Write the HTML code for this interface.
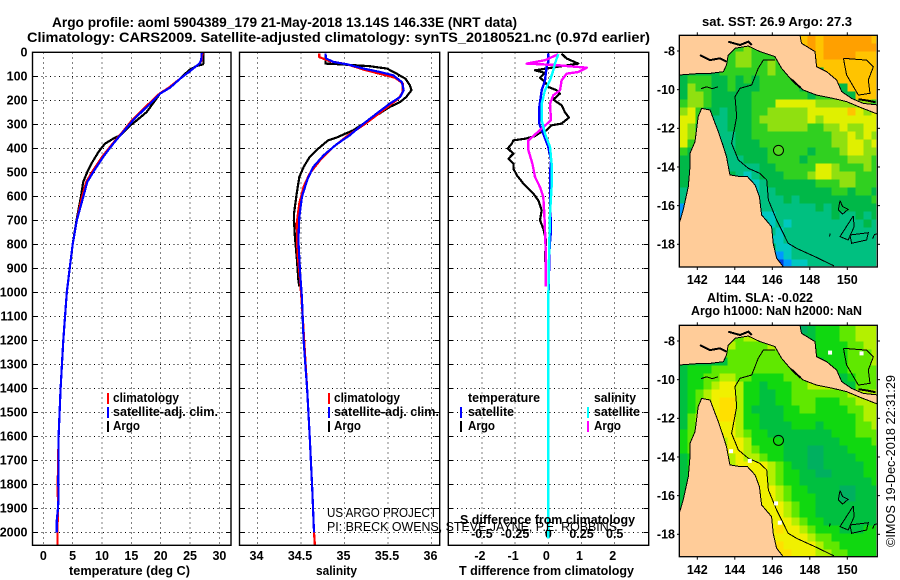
<!DOCTYPE html>
<html lang="en">
<head>
<meta charset="utf-8">
<title>Argo profile 5904389_179</title>
<style>
html,body{margin:0;padding:0;background:#fff;}
svg{display:block;}
text{font-family:"Liberation Sans",sans-serif;fill:#000;}
.b{font-weight:bold;}
.t{font-weight:bold;font-size:13.5px;}
.k{font-weight:bold;font-size:12.5px;}
.l{font-weight:bold;font-size:12.5px;}
.frame{fill:none;stroke:#000;stroke-width:1.4;}
</style>
</head>
<body>
<svg id="chart" xmlns="http://www.w3.org/2000/svg" width="900" height="580" viewBox="0 0 900 580">
  <defs>
    <clipPath id="clip-sst"><rect x="679.3" y="35.3" width="197" height="231"/></clipPath>
    <clipPath id="clip-sla"><rect x="679.3" y="325.3" width="197" height="231"/></clipPath>
    <clipPath id="clip-land-sst"><rect x="679.3" y="35.3" width="198" height="231.7"/></clipPath>
    <clipPath id="clip-land-sla"><rect x="679.3" y="325.3" width="198" height="231.4"/></clipPath>
  </defs>

  <text class="t" x="52" y="27" textLength="465" lengthAdjust="spacingAndGlyphs">Argo profile: aoml 5904389_179 21-May-2018 13.14S 146.33E (NRT data)</text>
  <text class="t" x="27" y="42" textLength="623" lengthAdjust="spacingAndGlyphs">Climatology: CARS2009. Satellite-adjusted climatology: synTS_20180521.nc (0.97d earlier)</text>

  <g id="plots"></g>
  <g id="maps"></g>

  <rect class="frame" x="32.5" y="52.3" width="198.5" height="493"/>
  <rect class="frame" x="239.5" y="52.3" width="200.2" height="493"/>
  <rect class="frame" x="448.3" y="52.3" width="200.4" height="493"/>

  <text class="k" x="69" y="575" textLength="121" lengthAdjust="spacingAndGlyphs">temperature (deg C)</text>
  <text class="k" x="316" y="575" textLength="41" lengthAdjust="spacingAndGlyphs">salinity</text>
  <text class="k" x="459" y="575" textLength="175" lengthAdjust="spacingAndGlyphs">T difference from climatology</text>
  <text class="k" x="460" y="524" textLength="175" lengthAdjust="spacingAndGlyphs">S difference from climatology</text>

  <text style="font-size:12.5px" x="327" y="517" textLength="110" lengthAdjust="spacingAndGlyphs">US ARGO PROJECT</text>
  <text style="font-size:12.5px" x="327" y="531" textLength="290" lengthAdjust="spacingAndGlyphs">PI: BRECK OWENS, STEVE JAYNE, P.E. ROBBINS</text>

  <g>
    <rect x="107" y="393" width="2" height="11" fill="#f00"/>
    <text class="l" x="113" y="402" textLength="66" lengthAdjust="spacingAndGlyphs">climatology</text>
    <rect x="107" y="407" width="2" height="11" fill="#00f"/>
    <text class="l" x="113" y="416" textLength="105" lengthAdjust="spacingAndGlyphs">satellite-adj. clim.</text>
    <rect x="107" y="421" width="2" height="11" fill="#000"/>
    <text class="l" x="113" y="430" textLength="27" lengthAdjust="spacingAndGlyphs">Argo</text>
  </g>
  <g>
    <rect x="328" y="393" width="2" height="11" fill="#f00"/>
    <text class="l" x="334" y="402" textLength="66" lengthAdjust="spacingAndGlyphs">climatology</text>
    <rect x="328" y="407" width="2" height="11" fill="#00f"/>
    <text class="l" x="334" y="416" textLength="105" lengthAdjust="spacingAndGlyphs">satellite-adj. clim.</text>
    <rect x="328" y="421" width="2" height="11" fill="#000"/>
    <text class="l" x="334" y="430" textLength="27" lengthAdjust="spacingAndGlyphs">Argo</text>
  </g>
  <g>
    <text class="l" x="468" y="402" textLength="72" lengthAdjust="spacingAndGlyphs">temperature</text>
    <rect x="460" y="407" width="2" height="11" fill="#00f"/>
    <text class="l" x="468" y="416" textLength="46" lengthAdjust="spacingAndGlyphs">satellite</text>
    <rect x="460" y="421" width="2" height="11" fill="#000"/>
    <text class="l" x="468" y="430" textLength="27" lengthAdjust="spacingAndGlyphs">Argo</text>
    <text class="l" x="594" y="402" textLength="42" lengthAdjust="spacingAndGlyphs">salinity</text>
    <rect x="587" y="407" width="2" height="11" fill="#0ff"/>
    <text class="l" x="594" y="416" textLength="46" lengthAdjust="spacingAndGlyphs">satellite</text>
    <rect x="587" y="421" width="2" height="11" fill="#f0f"/>
    <text class="l" x="594" y="430" textLength="27" lengthAdjust="spacingAndGlyphs">Argo</text>
  </g>

  <text class="k" x="702" y="26" textLength="150" lengthAdjust="spacingAndGlyphs">sat. SST: 26.9 Argo: 27.3</text>
  <text class="k" x="707" y="302" textLength="106" lengthAdjust="spacingAndGlyphs">Altim. SLA: -0.022</text>
  <text class="k" x="691" y="315" textLength="171" lengthAdjust="spacingAndGlyphs">Argo h1000: NaN h2000: NaN</text>
  <text style="font-size:13px" transform="translate(895 547) rotate(-90)" textLength="172" lengthAdjust="spacingAndGlyphs">©IMOS 19-Dec-2018 22:31:29</text>
</svg>

<script>
/* ---- profile data (depth in m, value in native units) ---- */
const depthTicks = [0,100,200,300,400,500,600,700,800,900,1000,1100,1200,1300,1400,1500,1600,1700,1800,1900,2000];
const tempTicks = [0,5,10,15,20,25,30];
const salTicks = [34,34.5,35,35.5,36];
const tDiffTicks = [-2,-1,0,1,2];
const sDiffTicks = [-0.5,-0.25,0,0.25,0.5];

const tempArgoDepth = [0,45,50,57,75,110,151,172,249,290,304,346,360,381,415,464,499,540,603,700,800,900,980];
const tempArgoValue = [27.3,27.3,27.2,26.1,24.8,23.3,21.3,19.9,17.6,15.6,14.8,13.1,11.9,10.5,9.4,8.2,7.5,6.8,6.4,5.65,5,4.5,4.1];
const tempClimDepth = [0,33,47,78,110,147,172,228,283,332,381,436,499,540,603,700,800,900,1000,1200,1400,1600,1800,1900,2000,2054];
const tempClimValue = [27.1,27,26.6,25,23.3,21.4,19.8,17.4,15.1,13.5,11.8,10,8.3,7.3,6.6,5.7,5,4.5,4,3.4,2.95,2.6,2.45,2.5,2.4,2.4];
const tempSatDepth = [0,33,47,78,110,147,172,228,283,332,381,436,499,540,603,700,800,900,1000,1200,1400,1600,1800,1850,1900,1950,2000];
const tempSatValue = [27,26.9,26.6,25,23.3,21.6,19.9,17.6,15.3,13.6,11.9,10.2,8.5,7.5,6.8,5.7,5,4.5,4,3.4,2.95,2.6,2.55,2.6,2.5,2.3,2.3];

const salArgoDepth = [5,47,50,58,68,89,110,137,158,186,207,228,262,297,325,339,355,367,401,436,478,520,589,672,700,769,853,950,975];
const salArgoValue = [34.78,34.78,34.95,35.29,35.49,35.6,35.7,35.75,35.77,35.71,35.64,35.52,35.37,35.22,35.1,35.01,34.91,34.81,34.7,34.6,34.53,34.48,34.45,34.42,34.42,34.43,34.45,34.47,34.48];
const salClimDepth = [5,20,37,50,72,90,106,130,165,193,221,262,303,346,395,450,505,560,630,713,838,950,1100,1400,1600,1825,2000,2054];
const salClimValue = [34.71,34.71,34.83,35.03,35.22,35.41,35.58,35.67,35.67,35.62,35.52,35.37,35.22,35.04,34.87,34.72,34.6,34.53,34.48,34.45,34.46,34.49,34.52,34.57,34.6,34.63,34.65,34.66];
const salSatDepth = [5,26,40,50,68,82,96,124,158,186,214,255,297,346,383,429,478,533,603,686,783,921,1020,1200,1400,1600,1825,2000];
const salSatValue = [34.78,34.79,34.87,35.03,35.22,35.41,35.56,35.66,35.68,35.64,35.52,35.37,35.22,35.06,34.91,34.76,34.64,34.57,34.51,34.48,34.47,34.49,34.51,34.53,34.57,34.6,34.63,34.65];

const tDiffArgoDepth = [6,26,47,75,86,106,124,144,158,172,197,221,249,272,297,304,325,335,349,360,367,381,401,422,443,464,485,512,547,589,617,658,700,735,783,853,874];
const tDiffArgoValue = [0.4,0.55,0.9,-0.4,-0.1,-0.25,-0.1,0,0.25,0.35,0.15,0.4,0.5,0.62,0.4,0.1,-0.05,-0.25,-0.4,-0.7,-1.05,-1.1,-1.22,-1.05,-1.2,-1.05,-1.05,-0.95,-0.75,-0.45,-0.3,-0.2,-0.25,-0.15,-0.07,-0.1,-0.1];
const tDiffSatDepth = [6,40,61,117,158,228,297,339,394,450,505,617,742,811,922,1033,2025];
const tDiffSatValue = [0,0,-0.05,-0.1,-0.2,-0.27,-0.27,-0.15,0,0.08,0.05,0.05,0.08,0.04,0.02,0,0];
const sDiffArgoDepth = [8,33,47,53,64,82,89,117,158,179,214,283,318,367,408,464,519,561,603,672,742,853,975];
const sDiffArgoValue = [0.075,-0.025,-0.163,0.05,0.289,0.226,0.138,0.1,0.088,0.038,0.013,0.02,-0.05,-0.15,-0.15,-0.12,-0.1,-0.063,-0.038,-0.03,-0.025,-0.018,-0.018];
const sDiffSatDepth = [8,47,75,117,158,214,283,339,394,464,561,672,853,1033,2025];
const sDiffSatValue = [0.075,0.05,0.038,0.013,-0.025,-0.05,-0.05,-0.025,0.013,0.025,0.025,0.013,0.005,0,0];

/* ---- map data: colour level per grid cell, land cells are covered ---- */
const lonTicks = [142,144,146,148,150];
const latTicks = [-8,-10,-12,-14,-16,-18];
const argoLon = 146.33;
const argoLat = -13.14;

const sstLevels = [
[4,4,4,4,4,4,4,4,4,4,4,4,4,4,4,8,9,8,9,9,9,9,9,9,8],
[4,4,4,4,4,4,5,5,6,5,5,5,4,4,4,8,9,8,9,9,9,9,9,9,9],
[4,4,4,4,4,4,5,6,6,5,5,5,6,4,4,4,8,8,9,9,9,9,8,8,8],
[4,4,4,4,4,5,5,6,6,5,5,6,5,6,4,4,4,8,8,8,8,8,8,8,8],
[4,4,4,4,4,5,5,5,5,5,5,6,5,5,4,4,4,4,8,8,8,8,8,8,8],
[4,5,5,5,4,4,5,4,5,4,5,5,5,5,5,4,4,4,4,8,8,8,8,8,8],
[4,6,5,5,4,4,5,4,4,4,5,5,5,5,5,4,4,4,4,4,4,8,8,8,8],
[4,6,6,5,4,4,4,4,4,5,5,5,5,5,5,5,4,5,5,5,4,4,8,8,8],
[5,6,6,5,4,4,4,4,4,5,5,5,7,7,7,7,7,6,6,6,6,6,6,6,5],
[6,7,5,4,4,3,4,4,4,5,5,6,6,6,6,6,7,7,7,7,7,8,7,6,7],
[7,7,5,4,3,3,4,4,4,5,6,6,6,6,6,6,7,6,7,7,7,7,7,7,7],
[7,6,4,4,3,3,4,4,4,5,5,6,6,6,6,6,5,5,6,6,7,6,6,7,7],
[7,6,4,4,3,3,3,4,4,5,5,5,5,5,5,5,5,5,5,6,6,7,6,7,6],
[7,5,4,4,3,3,3,4,4,4,5,5,5,5,5,5,5,5,5,6,6,7,7,6,7],
[5,4,4,4,4,3,3,4,4,4,4,5,5,5,5,5,4,5,5,5,6,7,7,6,6],
[4,4,4,4,4,4,3,3,4,4,4,5,5,5,5,4,5,5,5,5,5,6,6,6,5],
[4,4,4,4,4,4,3,3,3,3,4,4,5,5,5,5,5,7,7,6,5,5,5,6,5],
[4,4,4,4,4,4,4,3,2,3,4,4,4,5,5,5,6,7,7,6,6,6,5,5,5],
[4,4,4,4,4,4,4,4,4,2,3,4,4,4,4,4,4,5,5,5,6,6,5,5,5],
[3,4,4,4,4,4,4,4,4,2,3,3,4,4,4,4,4,4,4,5,5,4,5,5,4],
[3,4,4,4,4,4,4,4,4,3,3,3,3,4,3,4,4,4,4,4,4,4,4,4,5],
[1,4,4,4,4,4,4,4,4,4,3,3,3,3,3,3,3,4,3,4,4,4,4,4,4],
[1,4,4,4,4,4,4,4,4,4,2,2,3,3,3,3,3,3,3,4,3,3,4,3,4],
[0,4,4,4,4,4,4,4,4,4,4,2,3,2,3,3,3,3,3,3,3,3,3,4,3],
[4,4,4,4,4,4,4,4,4,4,4,3,2,3,3,3,3,3,3,3,3,3,3,3,3],
[4,4,4,4,4,4,4,4,4,4,4,2,2,3,3,3,3,3,3,3,3,3,3,3,3],
[4,4,4,4,4,4,4,4,4,4,4,4,2,2,3,3,3,3,3,3,3,3,3,3,3],
[4,4,4,4,4,4,4,4,4,4,4,4,1,2,3,3,3,3,3,3,3,3,3,3,3],
[4,4,4,4,4,4,4,4,4,4,4,4,0,1,2,2,3,3,3,3,3,3,3,3,3]
];

const slaLevels = [
[4,4,4,4,4,4,4,4,4,4,4,4,4,4,3,3,4,5,5,5,6,6,7,7,7],
[4,4,4,4,4,4,6,6,7,7,6,4,4,4,4,4,4,5,5,5,6,6,7,7,7],
[4,4,4,4,4,4,7,6,6,6,6,7,7,4,4,4,4,5,5,5,5,6,6,7,7],
[4,4,4,4,4,6,6,6,6,6,6,6,6,7,4,4,4,5,5,5,5,6,6,6,7],
[4,4,4,4,4,4,6,6,6,6,6,6,6,6,7,4,4,4,5,5,5,6,6,6,7],
[4,5,5,5,6,6,6,6,6,6,6,6,6,6,6,7,4,4,4,5,5,6,6,6,6],
[4,5,5,6,6,7,7,6,6,5,5,5,5,6,6,6,7,4,4,4,4,5,6,6,6],
[4,5,5,6,7,8,8,7,5,5,4,5,5,5,6,6,7,7,7,7,4,4,6,6,6],
[4,5,6,7,8,8,8,7,5,5,4,4,5,5,6,6,6,6,6,6,6,7,7,7,7],
[4,5,6,7,8,9,9,7,5,5,4,4,5,5,6,6,6,5,5,5,6,6,7,7,7],
[4,5,6,7,8,9,9,7,5,4,4,4,4,5,5,6,6,5,5,5,5,6,6,7,7],
[4,6,7,7,8,9,9,7,5,5,4,4,4,5,5,5,5,5,5,5,5,5,6,7,7],
[4,6,7,7,8,8,8,7,5,5,4,4,4,4,5,5,5,4,5,5,5,5,6,6,7],
[5,6,7,7,7,8,8,7,6,5,5,4,4,4,4,4,4,4,4,5,5,5,6,6,6],
[5,6,7,7,7,7,8,8,7,5,5,5,5,4,4,4,4,4,4,4,5,5,5,5,6],
[5,6,7,7,7,7,8,8,7,6,5,5,5,4,4,4,3,3,4,4,4,5,5,5,5],
[4,5,6,6,6,6,7,8,7,7,6,5,5,4,4,4,3,3,4,4,4,4,5,5,5],
[4,5,6,6,6,6,7,8,8,8,8,7,6,5,4,4,3,3,4,4,4,4,4,5,5],
[4,5,6,6,6,6,7,7,8,8,8,7,6,5,5,4,4,3,3,4,4,4,4,5,5],
[4,5,6,6,6,6,7,7,8,8,8,7,6,5,5,4,4,4,4,4,4,4,4,4,5],
[4,5,6,6,6,6,7,7,8,8,8,8,7,6,5,5,4,4,4,4,3,3,4,4,4],
[4,4,6,6,6,6,7,7,8,8,8,8,7,6,5,5,5,4,4,4,3,3,4,4,4],
[4,4,6,6,6,6,7,7,8,8,8,8,8,7,6,5,5,4,4,4,4,4,4,4,4],
[4,4,6,6,6,6,7,7,8,8,8,8,8,7,6,5,5,4,4,4,4,4,4,4,4],
[4,4,6,6,6,6,7,7,8,8,8,8,8,8,7,6,5,5,4,4,4,4,4,4,4],
[4,4,6,6,6,6,7,7,8,8,8,8,9,8,8,7,6,5,5,5,4,4,4,5,5],
[4,4,6,6,6,6,7,7,8,8,8,8,8,8,8,8,7,6,6,5,5,5,5,5,5],
[4,4,6,6,6,6,7,7,8,8,8,8,9,8,8,8,8,7,6,6,5,5,5,5,5],
[4,4,6,6,6,6,7,7,8,8,8,8,9,9,8,8,8,7,7,6,6,5,5,5,5]
];

const sstPalette = ['#0040e0','#0098ff','#00c8c0','#00c080','#00b848','#30d020','#90e010','#e0f000','#ffc400','#ffa000'];
const slaPalette = ['#00a080','#00a080','#00a080','#00b060','#00c040','#10d810','#60e800','#b4f000','#f0f000','#ffe000'];

const slaMissingLon = [150.76,149.08,144.8,143.8,146.2,146.4];
const slaMissingLat = [-8.64,-8.6,-14.2,-13.7,-16.4,-17.4];

/* geographic outlines, lon/lat vertices */
const mainlandNorthLon = [141.04,147.48,147.56,148.28,148.36,148.9,149.43,149.7,150.23,150.85,151.6,151.6,150.68,149.96,149.25,148.36,147.65,147.03,146.5,146.14,145.34,144.72,144.01,143.65,143.56,143.39,142.68,142.14,141.04];
const mainlandNorthLat = [-7.19,-7.19,-7.6,-8.03,-8.81,-9.07,-9.5,-10.1,-10.45,-10.71,-10.79,-11.26,-10.91,-10.62,-10.45,-10.28,-10.02,-9.5,-8.9,-8.29,-8.03,-7.74,-7.86,-8.21,-8.72,-9.07,-9.16,-9.16,-9.24];
const mainlandSouthLon = [141.04,141.25,141.52,141.61,141.61,141.88,142.05,142.23,142.68,142.85,143.12,143.39,143.56,143.74,144.28,144.67,145.08,145.31,145.43,145.96,146.05,146.23,146.59,141.04];
const mainlandSouthLat = [-16.91,-16.22,-15.02,-13.98,-13.29,-12.69,-11.4,-10.97,-11.05,-11.48,-12.17,-12.95,-13.47,-14.41,-14.5,-14.5,-14.93,-15.53,-16.48,-17.09,-17.95,-18.72,-19.17,-19.17];
const contourLon = [146.14,145.52,145.25,144.9,144.28,144.01,144.1,143.83,144.19,144.72,145.34,145.7,145.79,146.23,146.85,147.3,148.28,149.29];
const contourLat = [-8.47,-8.47,-8.9,-9.76,-9.93,-10.36,-11.4,-12.78,-13.64,-14.07,-14.33,-14.67,-15.71,-16.74,-17.95,-18.21,-18.64,-19.12];
const reefOutlines = [
  [[149.61,-15.74],[149.52,-16.22],[149.75,-16.43],[150.05,-16.19],[149.75,-16.05],[149.61,-15.74]],
  [[150.32,-16.53],[149.61,-17.6],[150.05,-17.78],[150.36,-17.09],[150.32,-16.53]],
  [[150.14,-17.52],[151.12,-17.4],[151.03,-17.78],[150.23,-17.95],[150.14,-17.52]],
  [[149.08,-17.45],[149.05,-17.6]],
  [[151.35,-17.7],[151.45,-17.5],[151.6,-17.45]],
  [[149.79,-8.38],[151.03,-8.47],[151.39,-8.81],[151.12,-9.5],[151.21,-10.19],[150.59,-10.28],[149.96,-9.24],[149.79,-8.38]],
  [[142.2,-9.95],[142.5,-9.85],[142.8,-9.95],[143.1,-9.85]]
];
const deltaOutlines = [
  [[142.14,-8.21],[142.68,-8.47],[143.21,-8.38],[143.56,-8.55]],
  [[143.65,-7.52],[144.28,-7.69],[144.72,-7.52],[144.9,-7.69]],
  [[150.6,-10.5],[151,-10.55],[151.5,-10.65]],
  [[147,-9.45],[147.5,-9.9]]
];

const NS = 'http://www.w3.org/2000/svg';
function mk(tag, attrs, parent, txt) {
  const el = document.createElementNS(NS, tag);
  for (const k in attrs) el.setAttribute(k, attrs[k]);
  if (txt !== undefined) el.textContent = txt;
  parent.appendChild(el);
  return el;
}

/* ---- profile panels ---- */
const plots = document.getElementById('plots');
const depthY = d => 52.3 + 0.24 * d;
const tempX = v => 43.3 + 5.87 * v;
const salX = v => 257.5 + 87 * (v - 34);
const tDiffX = v => 548.3 + 33.2 * v;
const sDiffX = v => 548.3 + 132.8 * v;
const panelTop = 52.3, panelBottom = 545.3;

function drawGrid(left, right, xTicks, xScale, name) {
  const g = mk('g', {'shape-rendering':'crispEdges'}, plots);
  
  
  depthTicks.forEach(d => {
    const y = depthY(d);
    const dotted = mk('line', {x1:left, x2:right, y1:y, y2:y, stroke:'#000', 'stroke-width':1, 'stroke-dasharray':'1 3.4'}, g);
    
    
    const tl = mk('line', {x1:left, x2:left + 5, y1:y, y2:y, stroke:'#000', 'stroke-width':1}, g);
    
    
    const tr = mk('line', {x1:right - 5, x2:right, y1:y, y2:y, stroke:'#000', 'stroke-width':1}, g);
    
    
  });
  xTicks.forEach(v => {
    const x = xScale(v);
    const dotted = mk('line', {x1:x, x2:x, y1:panelTop, y2:panelBottom, stroke:'#000', 'stroke-width':1, 'stroke-dasharray':'1 4'}, g);
    
    
  });
}
function drawSeries(depths, values, xScale, color, width, name) {
  const pts = depths.map((d, i) => xScale(values[i]).toFixed(1) + ',' + depthY(d).toFixed(1)).join(' ');
  const line = mk('polyline', {points:pts, fill:'none', stroke:color, 'stroke-width':width, 'stroke-linejoin':'round', 'shape-rendering':'crispEdges'}, plots);
  
  
}
function drawXLabels(ticks, xScale, y, name, fmt) {
  ticks.forEach(v => {
    const t = mk('text', {x:xScale(v), y:y, 'text-anchor':'middle', class:'k'}, plots, fmt ? fmt(v) : String(v));
    
    
  });
}

drawGrid(32.5, 231, tempTicks, tempX, 'temperature');
drawGrid(239.5, 439.7, salTicks, salX, 'salinity');
drawGrid(448.3, 648.7, tDiffTicks, tDiffX, 'difference');

depthTicks.forEach(d => {
  const t = mk('text', {x:27.5, y:depthY(d) + 4.3, 'text-anchor':'end', class:'k'}, plots, String(d));
  
  
});
drawXLabels(tempTicks, tempX, 560, 'temperature-tick-label');
drawXLabels(salTicks, v => salX(v) - 1, 560, 'salinity-tick-label');
drawXLabels(tDiffTicks, v => tDiffX(v) - 2, 560, 't-difference-tick-label');
drawXLabels(sDiffTicks, sDiffX, 538, 's-difference-tick-label');

drawSeries(tempArgoDepth, tempArgoValue, tempX, '#000', 2.2, 'temperature-argo-line');
drawSeries(tempClimDepth, tempClimValue, tempX, '#f00', 2.2, 'temperature-climatology-line');
drawSeries(tempSatDepth, tempSatValue, tempX, '#00f', 2.2, 'temperature-satellite-line');
drawSeries(salArgoDepth, salArgoValue, salX, '#000', 2.2, 'salinity-argo-line');
drawSeries(salClimDepth, salClimValue, salX, '#f00', 2.2, 'salinity-climatology-line');
drawSeries(salSatDepth, salSatValue, salX, '#00f', 2.2, 'salinity-satellite-line');
drawSeries(tDiffArgoDepth, tDiffArgoValue, tDiffX, '#000', 2.2, 't-difference-argo-line');
drawSeries(tDiffSatDepth, tDiffSatValue, tDiffX, '#00f', 2.4, 't-difference-satellite-line');
drawSeries(sDiffArgoDepth, sDiffArgoValue, sDiffX, '#f0f', 2.4, 's-difference-argo-line');
drawSeries(sDiffSatDepth, sDiffSatValue, sDiffX, '#0ff', 2.4, 's-difference-satellite-line');

/* ---- maps ---- */
const maps = document.getElementById('maps');
const lonX = lon => 697.3 + 18.75 * (lon - 142);
const CELL_DLON = 8 / 18.75, CELL_DLAT = 8 / 19.33;
const LON0 = 141.04, LAT0 = -7.19;

function drawMap(id, latY, levels, palette, top, bottom, clipData, clipLand, labelY, markerFill) {
  const g = mk('g', {}, maps);
  
  
  const cells = mk('g', {'clip-path':'url(#' + clipData + ')', 'shape-rendering':'crispEdges'}, g);
  
  
  levels.forEach((row, r) => row.forEach((level, c) => {
    const x0 = lonX(LON0 + c * CELL_DLON), y0 = latY(LAT0 - r * CELL_DLAT);
    const x1 = lonX(LON0 + (c + 1) * CELL_DLON), y1 = latY(LAT0 - (r + 1) * CELL_DLAT);
    const cell = mk('rect', {x:x0, y:y0, width:x1 - x0 + 0.3, height:y1 - y0 + 0.3, fill:palette[level]}, cells);
    
    
  }));
  const toPts = (lons, lats) => lons.map((lon, i) => lonX(lon).toFixed(1) + ',' + latY(lats[i]).toFixed(1)).join(' ');
  const pairPts = list => list.map(p => lonX(p[0]).toFixed(1) + ',' + latY(p[1]).toFixed(1)).join(' ');
  const land = mk('g', {'clip-path':'url(#' + clipLand + ')', 'shape-rendering':'crispEdges'}, g);
  
  
  const north = mk('polygon', {points:toPts(mainlandNorthLon, mainlandNorthLat), fill:'#ffcc99', stroke:'#000', 'stroke-width':1}, land);
  
  
  const south = mk('polygon', {points:toPts(mainlandSouthLon, mainlandSouthLat), fill:'#ffcc99', stroke:'#000', 'stroke-width':1}, land);
  
  
  const contour = mk('polyline', {points:toPts(contourLon, contourLat), fill:'none', stroke:'#000', 'stroke-width':1}, land);
  
  
  reefOutlines.forEach(list => {
    const reef = mk('polyline', {points:pairPts(list), fill:'none', stroke:'#000', 'stroke-width':1}, land);
    
    
  });
  deltaOutlines.forEach(list => {
    const delta = mk('polyline', {points:pairPts(list), fill:'none', stroke:'#000', 'stroke-width':2}, land);
    
    
  });
  const marker = mk('circle', {cx:lonX(argoLon), cy:latY(argoLat), r:5, fill:markerFill, stroke:'#000', 'stroke-width':1}, g);
  
  
  const frame = mk('rect', {x:679.3, y:top, width:198, height:bottom - top, fill:'none', stroke:'#000', 'stroke-width':1.3}, g);
  
  
  lonTicks.forEach(lon => {
    const x = lonX(lon);
    const a = mk('line', {x1:x, x2:x, y1:top - 3, y2:top, stroke:'#000', 'stroke-width':1}, g);
    
    
    const b = mk('line', {x1:x, x2:x, y1:bottom, y2:bottom + 3, stroke:'#000', 'stroke-width':1}, g);
    
    
    const t = mk('text', {x:x, y:labelY, 'text-anchor':'middle', class:'k'}, g, String(lon));
    
    
  });
  latTicks.forEach(lat => {
    const y = latY(lat);
    const a = mk('line', {x1:677, x2:679.3, y1:y, y2:y, stroke:'#000', 'stroke-width':1}, g);
    
    
    const b = mk('line', {x1:877.3, x2:880, y1:y, y2:y, stroke:'#000', 'stroke-width':1}, g);
    
    
    const t = mk('text', {x:675, y:y + 4.3, 'text-anchor':'end', class:'k'}, g, String(lat));
    
    
  });
  return g;
}

const sstLatY = lat => 51 - 19.33 * (lat + 8);
const slaLatY = lat => 341 - 19.33 * (lat + 8);
drawMap('sst', sstLatY, sstLevels, sstPalette, 35.3, 267, 'clip-sst', 'clip-land-sst', 284, '#50d820');
const slaMap = drawMap('sla', slaLatY, slaLevels, slaPalette, 325.3, 556.7, 'clip-sla', 'clip-land-sla', 574, 'none');
slaMissingLon.forEach((lon, i) => {
  const gap = mk('rect', {x:lonX(lon) - 2, y:slaLatY(slaMissingLat[i]) - 2, width:4, height:4, fill:'#fff'}, slaMap);
  
  
});
</script>
</body>
</html>
